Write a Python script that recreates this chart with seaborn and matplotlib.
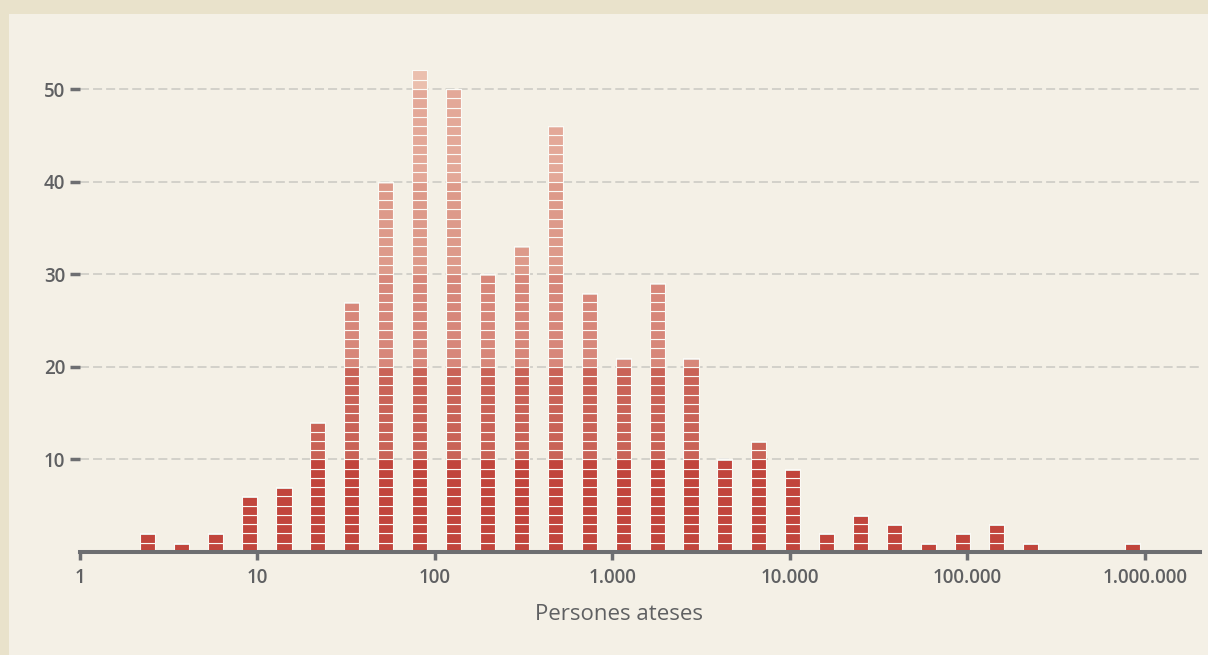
import numpy as np
import pandas as pd
import matplotlib
matplotlib.use("Agg")
import matplotlib.pyplot as plt
from matplotlib.patches import Rectangle
from matplotlib.ticker import FixedLocator, FuncFormatter, NullLocator
import seaborn as sns

# ---- data ----
bin_centers = [2.4, 3.75, 5.8, 9.05, 14.1, 21.8, 33.9, 52.6, 81.8, 127, 197, 306,
               476, 739, 1148, 1783, 2770, 4300, 6680, 10380, 16100, 25000,
               38800, 60400, 93700, 145600, 226000, 847000]
counts = [2, 1, 2, 6, 7, 14, 27, 40, 52, 50, 30, 33,
          46, 28, 21, 29, 21, 10, 12, 9, 2, 4,
          3, 1, 2, 3, 1, 1]
x_ticks = [1, 10, 100, 1000, 10000, 100000, 1000000]
y_ticks = [10, 20, 30, 40, 50]
x_label = "Persones ateses"

band_colors = ["#c1453c", "#c96357", "#d7877a", "#dd9a8a", "#e3a898", "#ebbfae"]

# ---- style ----
OUTER = "#e9e2cb"
PANEL = "#f4f0e6"
AXIS = "#6d6e71"
TEXT = "#5f6062"
GRID = "#cac8c2"

sns.set_theme(style="white")
plt.rcParams["font.family"] = ["Open Sans", "DejaVu Sans"]
plt.rcParams["lines.scale_dashes"] = False

W, H = 1208, 655
fig = plt.figure(figsize=(W / 100, H / 100), dpi=100, facecolor=OUTER)
fig.patches.append(Rectangle((9 / W, 0), 1 - 9 / W, (H - 14) / H,
                             transform=fig.transFigure, facecolor=PANEL,
                             edgecolor="none", zorder=-10))

ax_left, ax_right = 80, 1200
y0_px = 552
px_per_unit = 9.26
ymax = 56
ax = fig.add_axes([ax_left / W, (H - y0_px) / H, (ax_right - ax_left) / W,
                   ymax * px_per_unit / H])
ax.set_facecolor("none")

# one row per stacked block
rows = []
for c, n in zip(bin_centers, counts):
    for k in range(1, n + 1):
        rows.append({"x": c, "level": f"L{k:02d}"})
df = pd.DataFrame(rows)
max_level = max(counts)
levels = [f"L{k:02d}" for k in range(1, max_level + 1)]
palette = {f"L{k:02d}": band_colors[min((k - 1) // 10, len(band_colors) - 1)]
           for k in range(1, max_level + 1)}

bar_w = 0.085  # in decades
edges = []
for c in bin_centers:
    lc = np.log10(c)
    edges += [lc - bar_w / 2, lc + bar_w / 2]

sns.histplot(data=df, x="x", hue="level", hue_order=levels[::-1],
             palette=palette, multiple="stack", bins=edges, log_scale=True,
             element="bars", edgecolor="#fbfaf6", linewidth=0.8, alpha=1,
             legend=False, ax=ax, zorder=3)

ax.set_xscale("log")
ax.set_xlim(1, 10 ** 6.31)
ax.set_ylim(0, ymax)

# grid
ax.set_yticks(y_ticks)
ax.yaxis.grid(True, color=GRID, linewidth=1.1, linestyle=(0, (6.5, 2.9)))
ax.xaxis.grid(False)
ax.set_axisbelow(True)

# spines
for s in ["left", "top", "right"]:
    ax.spines[s].set_visible(False)
ax.spines["bottom"].set_color(AXIS)
ax.spines["bottom"].set_linewidth(2.9)
ax.spines["bottom"].set_zorder(5)

ax.xaxis.set_major_locator(FixedLocator(x_ticks))
ax.xaxis.set_minor_locator(NullLocator())
ax.xaxis.set_major_formatter(FuncFormatter(lambda v, p: f"{int(round(v)):,}".replace(",", ".")))
ax.tick_params(axis="x", which="major", direction="out", length=5.5, width=2.5,
               color=AXIS, labelcolor=TEXT, labelsize=13.5, pad=6, bottom=True)
ax.tick_params(axis="y", which="major", direction="out", length=7.5, width=2.5,
               color=AXIS, labelcolor=TEXT, labelsize=13.5, pad=3, left=True)
for lbl in ax.get_xticklabels() + ax.get_yticklabels():
    lbl.set_fontweight("semibold")

ax.set_xlabel(x_label, fontsize=16, color=TEXT, fontweight="medium")
ax.set_ylabel("")
ax_h_px = ymax * px_per_unit
ax.xaxis.set_label_coords((619 - ax_left) / (ax_right - ax_left), -(615 - y0_px) / ax_h_px)
ax.xaxis.label.set_verticalalignment("center")

fig.savefig("out.png", dpi=100, facecolor=OUTER)
